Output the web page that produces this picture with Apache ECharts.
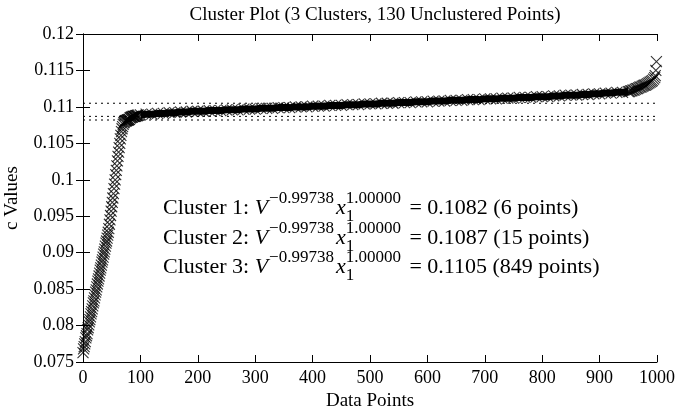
<!DOCTYPE html>
<html>
<head>
<meta charset="utf-8">
<script src="https://cdn.jsdelivr.net/npm/echarts@6/dist/echarts.min.js"></script>
<style>
html,body{margin:0;padding:0;background:#fff;}
#chart{width:681px;height:411px;}
</style>
</head>
<body>
<div id="chart"></div>
<script>
// ---------- DATA ----------
const titleText = 'Cluster Plot (3 Clusters, 130 Unclustered Points)';
const xAxisName = 'Data Points';
const yAxisName = 'c Values';

// Unclustered points at the low end: indices 0..75, step 1
const lowStart = 0, lowStep = 1;
const lowValues = [
  0.0763,0.0768,0.0771,0.0775,0.0778,0.0783,0.0786,0.0789,0.0794,0.0797,
  0.0801,0.0805,0.0808,0.0812,0.0816,0.0819,0.0823,0.0827,0.0831,0.0834,
  0.0838,0.0842,0.0846,0.0849,0.0853,0.0857,0.0861,0.0864,0.0868,0.0872,
  0.0876,0.0879,0.0883,0.0887,0.0890,0.0894,0.0898,0.0901,0.0905,0.0909,
  0.0913,0.0916,0.0920,0.0924,0.0928,0.0933,0.0939,0.0945,0.0951,0.0957,
  0.0963,0.0969,0.0975,0.0981,0.0988,0.0994,0.1000,0.1007,0.1013,0.1019,
  0.1026,0.1032,0.1038,0.1044,0.1050,0.1056,0.1061,0.1066,0.1070,0.1073,
  0.1076,0.1078,0.1079,0.1080,0.1081,0.1081
];
// Clusters 1 and 2: indices 76..96, step 1
const c12Start = 76, c12Step = 1;
const c12Values = [
  0.1081,0.1082,0.1082,0.1082,0.1083,0.1083,
  0.1085,0.1085,0.1086,0.1086,0.1086,0.1087,0.1087,0.1087,0.1087,0.1087,
  0.1088,0.1088,0.1088,0.1088,0.1089
];
// Cluster 3: indices 100..950, sampled every 10
const c3Start = 100, c3Step = 10;
const c3Values = [
  0.1089,0.1090,0.1090,0.1091,0.1091,0.1092,0.1092,0.1093,0.1093,0.1094,
  0.1094,0.1094,0.1095,0.1095,0.1095,0.1096,0.1096,0.1096,0.1097,0.1097,
  0.1097,0.1098,0.1098,0.1098,0.1099,0.1099,0.1099,0.1100,0.1100,0.1100,
  0.1101,0.1101,0.1101,0.1102,0.1102,0.1102,0.1103,0.1103,0.1103,0.1104,
  0.1104,0.1104,0.1105,0.1105,0.1105,0.1106,0.1106,0.1106,0.1107,0.1107,
  0.1107,0.1108,0.1108,0.1108,0.1109,0.1109,0.1109,0.1110,0.1110,0.1110,
  0.1111,0.1111,0.1111,0.1112,0.1112,0.1112,0.1113,0.1113,0.1113,0.1114,
  0.1114,0.1114,0.1115,0.1115,0.1116,0.1116,0.1116,0.1117,0.1117,0.1118,
  0.1118,0.1119,0.1119,0.1120,0.1120,0.1121
];
// Unclustered points at the high end
const highIdx = [952,954,956,958,960,962,964,966,968,970,972,974,976,978,980,
                 982,984,986,988,990,992,994,996,997,998,999];
const highValues = [0.1121,0.1122,0.1122,0.1123,0.1123,0.1124,0.1125,0.1125,0.1126,0.1127,
                    0.1127,0.1128,0.1129,0.1130,0.1130,0.1131,0.1132,0.1133,0.1134,0.1135,
                    0.1136,0.1138,0.1140,0.1143,0.1150,0.1162];
// Cluster centre values (dotted lines) and sizes
const clusterCentres = [0.1082, 0.1087, 0.1105];
const clusterSizes = [6, 15, 849];
const exponentV = '\u22120.99738';
const exponentX = '1.00000';
const subscriptX = '1';

// ---------- BUILD ----------
function seq(start, step, vals){ return vals.map((v,i)=>[start+i*step, v]); }
const pts = []
  .concat(seq(lowStart, lowStep, lowValues))
  .concat(seq(c12Start, c12Step, c12Values))
  .concat(seq(c3Start, c3Step, c3Values))
  .concat(highIdx.map((x,i)=>[x, highValues[i]]));
const bandPts = seq(c3Start, c3Step, c3Values);

const SERIF = '"Liberation Serif", "DejaVu Serif", serif';
const chart = echarts.init(document.getElementById('chart'), null, {renderer:'canvas'});

const ctx = document.createElement('canvas').getContext('2d');
function w(text, size, italic){ ctx.font = (italic?'italic ':'') + size + 'px ' + SERIF; return ctx.measureText(text).width; }
const MAIN = 22, SCRIPT = 17;
const annX = 163, rowMid = [208, 238, 267];
const graphics = [];
clusterCentres.forEach((c, r) => {
  let x = annX; const m = rowMid[r];
  const add = (text, size, italic, cy) => {
    graphics.push({type:'text', x:x, y:cy, silent:true,
      style:{text:text, font:(italic?'italic ':'')+size+'px '+SERIF, fill:'#000', verticalAlign:'middle', align:'left'}});
  };
  const t1 = 'Cluster ' + (r+1) + ': ';
  add(t1, MAIN, false, m); x += w(t1, MAIN, false);
  add('V', MAIN, true, m); x += w('V', MAIN, true) + 1;
  add(exponentV, SCRIPT, false, m-9); x += w(exponentV, SCRIPT, false) + 2;
  add('x', MAIN, true, m); x += w('x', MAIN, true);
  add(subscriptX, SCRIPT, false, m+9);
  add(exponentX, SCRIPT, false, m-9); x += w(exponentX, SCRIPT, false) + 3;
  const t2 = ' = ' + c.toFixed(4) + ' (' + clusterSizes[r] + ' points)';
  add(t2, MAIN, false, m);
});

const xMarker = 'path://M0,0L10,10M10,0L0,10';
const tickStyle = {show:true, inside:true, length:7, lineStyle:{color:'#000'}};
const lineAx = {show:true, lineStyle:{color:'#000', width:1}};

const dottedSeries = clusterCentres.map(c => ({
  type:'line', data:[[0,c],[1000,c]], showSymbol:false, symbol:'none', silent:true,
  lineStyle:{color:'#000', width:1, type:[2,4]}, z:1
}));

chart.setOption({
  animation:false,
  backgroundColor:'#fff',
  title:{text:titleText, left:370, top:1, textAlign:'center',
    textStyle:{fontFamily:SERIF, fontWeight:'normal', fontSize:19, color:'#000'}},
  grid:{left:83, right:24, top:34, bottom:49, containLabel:false, outerBoundsMode:'none'},
  xAxis:[
    {type:'value', min:0, max:1000, interval:100, position:'bottom',
      name:xAxisName, nameLocation:'middle', nameGap:27,
      nameTextStyle:{fontFamily:SERIF, fontSize:19, color:'#000'},
      axisLine:lineAx, splitLine:{show:false}, axisTick:tickStyle,
      axisLabel:{fontFamily:SERIF, fontSize:18, color:'#000', margin:7, formatter:v=>String(v)}},
    {type:'value', min:0, max:1000, interval:100, position:'top',
      axisLine:lineAx, splitLine:{show:false}, axisTick:tickStyle, axisLabel:{show:false}}
  ],
  yAxis:[
    {type:'value', min:0.075, max:0.12, interval:0.005, position:'left',
      name:yAxisName, nameLocation:'middle', nameGap:61, nameRotate:90,
      nameTextStyle:{fontFamily:SERIF, fontSize:19, color:'#000'},
      axisLine:lineAx, splitLine:{show:false}, axisTick:tickStyle,
      axisLabel:{fontFamily:SERIF, fontSize:18, color:'#000', margin:9,
        formatter:v=>String(+v.toFixed(3))}},
    {type:'value', min:0.075, max:0.12, interval:0.005, position:'right',
      axisLine:lineAx, splitLine:{show:false}, axisTick:tickStyle, axisLabel:{show:false}}
  ],
  series: dottedSeries.concat([
    {type:'line', data:bandPts, showSymbol:false, symbol:'none', silent:true,
      lineStyle:{color:'#000', width:7}, z:2},
    {type:'scatter', data:pts, symbol:xMarker, symbolSize:11, silent:true,
      itemStyle:{color:'rgba(0,0,0,0)', borderColor:'#000', borderWidth:1.1}, z:3}
  ]),
  graphic:graphics
});
</script>
</body>
</html>
